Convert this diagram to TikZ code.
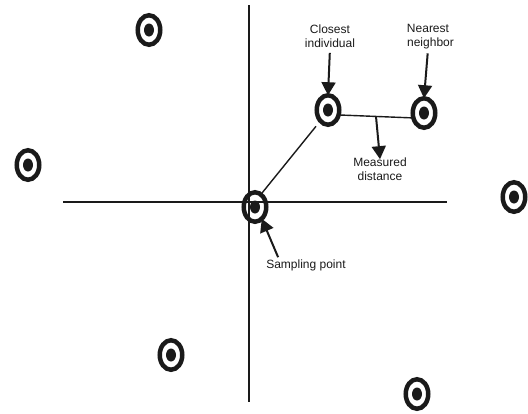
\documentclass[tikz,border=0pt]{standalone}
\usepackage{fontspec}
\setmainfont{Liberation Sans}
\usetikzlibrary{shapes.geometric,arrows.meta,calc}
\definecolor{ink}{HTML}{1A1A1A}
\tikzset{
  marker/.style={ellipse, draw=ink, line width=4.5pt, minimum width=22.5pt,
    minimum height=29.5pt, inner sep=0pt, outer sep=0pt,
    path picture={\fill[ink] (path picture bounding box.center) ellipse [x radius=5pt, y radius=6.5pt];}},
  lbl/.style={align=center, inner sep=0pt, text=ink, font=\fontsize{12}{14.5}\selectfont},
  axis/.style={draw=ink, line width=1.1pt},
  link/.style={draw=ink, line width=1.4pt},
  arr/.style={draw=ink, line width=2pt, -{Triangle[width=14pt,length=13pt]}}
}
\begin{document}
\begin{tikzpicture}[x=1pt,y=-1pt]
\useasboundingbox (0,0) rectangle (528,413);
% axes
\coordinate (vt) at (249,5);
\coordinate (vb) at (249,402);
\coordinate (hl) at (63,202);
\coordinate (hr) at (447,202);
\draw[axis] (vt) -- (vb);
\draw[axis] (hl) -- (hr);
% markers
\node[marker] (m1) at (149,30) {};
\node[marker] (m2) at (28,165) {};
\node[marker] (m3) at (514,197) {};
\node[marker] (m4) at (171,355) {};
\node[marker] (m5) at (417,394) {};
\node[marker] (closest) at (328,110) {};
\node[marker] (nearest) at (424,113) {};
\node[marker] (samp) at (255,207) {};
% labels
\node[lbl] (lclosest) at (330,36) {Closest\\individual};
\node[lbl] (lnear) at (428,36.5) {Nearest\\\hspace*{5pt}neighbor};
\node[lbl] (lmeas) at (380,169) {Measured\\distance};
\node[lbl] (lsamp) at (306,265) {Sampling point};
% connectors
\draw[link, shorten >=7pt] (samp.65) -- (closest.235);
\draw[link] (closest.-25) -- (nearest.205);
\coordinate (mid) at ($(closest.-25)!0.5!(nearest.205)$);
\draw[arr, shorten <=5pt] (lclosest.south) -- (closest.north);
\draw[arr, shorten <=4pt] (lnear.south) -- (nearest.north);
\draw[arr] (mid) -- ([yshift=-2pt]lmeas.north);
\draw[arr] ([xshift=12pt,yshift=2pt]lsamp.north west) -- (samp.-60);
\end{tikzpicture}
\end{document}
